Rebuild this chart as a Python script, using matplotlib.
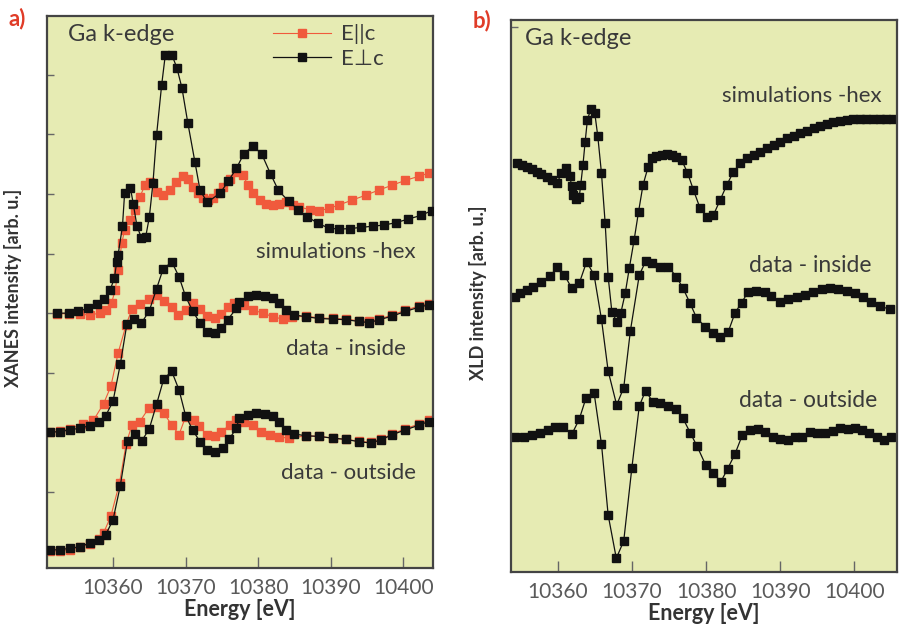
import matplotlib
matplotlib.use("Agg")
import matplotlib.pyplot as plt
from matplotlib.lines import Line2D

plt.rcParams['font.family'] = ['Lato', 'DejaVu Sans']

# ---------------- panel a: XANES (arb. units, curves offset) ----------------
sim_perp_E = [10352.3, 10353.9, 10355.2, 10356.5, 10357.8, 10358.7, 10359.6, 10360.2, 10360.5,
              10360.7, 10361.3, 10361.6, 10362.4, 10362.8, 10363.3, 10363.9, 10364.5, 10365.0,
              10365.5, 10366.0, 10366.7, 10367.2, 10368.1, 10368.8, 10369.5, 10370.3, 10371.3,
              10372.0, 10373.0, 10374.8, 10375.9, 10377.0, 10378.0, 10379.3, 10380.5, 10381.7,
              10382.8, 10384.2, 10385.5, 10386.8, 10388.2, 10389.7, 10391.1, 10392.6, 10394.2,
              10395.8, 10397.4, 10399.0, 10400.7, 10402.4, 10403.9]
sim_perp_I = [4.00, 4.00, 4.03, 4.08, 4.15, 4.23, 4.39, 4.59, 4.86,
              4.98, 5.46, 6.02, 6.10, 5.83, 5.46, 5.27, 5.28, 5.61,
              6.18, 6.99, 7.83, 8.33, 8.34, 8.12, 7.78, 7.20, 6.53,
              6.06, 5.86, 6.02, 6.22, 6.43, 6.67, 6.81, 6.67, 6.34,
              6.06, 5.88, 5.74, 5.62, 5.51, 5.43, 5.41, 5.42, 5.44,
              5.46, 5.48, 5.52, 5.58, 5.64, 5.72]

sim_par_E = [10352.3, 10353.9, 10355.4, 10356.8, 10358.2, 10359.1, 10359.8, 10360.3, 10360.7,
             10361.2, 10361.6, 10362.3, 10363.0, 10363.7, 10364.4, 10365.1, 10366.0, 10366.9,
             10367.8, 10368.7, 10369.7, 10370.3, 10371.0, 10371.7, 10372.4, 10373.1, 10373.8,
             10374.5, 10375.2, 10376.1, 10377.0, 10377.9, 10378.6, 10379.3, 10380.2, 10381.1,
             10382.0, 10382.9, 10383.9, 10384.8, 10385.7, 10387.1, 10388.4, 10389.8, 10391.2,
             10393.0, 10394.8, 10396.7, 10398.5, 10400.3, 10402.2, 10403.5]
sim_par_I = [3.99, 3.99, 3.98, 3.97, 4.00, 4.05, 4.17, 4.39, 4.72,
             5.17, 5.40, 5.56, 5.73, 5.95, 6.15, 6.21, 6.04, 5.98,
             6.07, 6.21, 6.31, 6.26, 6.12, 6.01, 5.93, 5.90, 5.93,
             6.01, 6.12, 6.26, 6.37, 6.32, 6.15, 6.01, 5.90, 5.83,
             5.82, 5.84, 5.87, 5.82, 5.78, 5.74, 5.72, 5.76, 5.82,
             5.90, 5.98, 6.07, 6.15, 6.23, 6.30, 6.35]

in_perp_E = [10351.3, 10352.7, 10354.1, 10355.5, 10356.8, 10358.0, 10359.0, 10360.0, 10361.0,
             10361.9, 10362.9, 10363.9, 10365.0, 10366.0, 10366.9, 10368.1, 10369.1, 10370.0,
             10371.0, 10372.0, 10372.9, 10374.0, 10374.9, 10375.8, 10377.0, 10377.4, 10378.6,
             10379.7, 10380.9, 10382.0, 10382.9, 10383.9, 10385.0, 10386.6, 10388.4, 10390.3,
             10392.1, 10393.9, 10395.3, 10396.7, 10398.5, 10400.3, 10402.2, 10403.5]
in_perp_I = [2.00, 2.01, 2.04, 2.07, 2.11, 2.18, 2.28, 2.52, 3.14,
             3.81, 3.90, 3.83, 4.04, 4.41, 4.74, 4.86, 4.61, 4.28,
             4.03, 3.83, 3.69, 3.66, 3.75, 3.89, 4.08, 4.19, 4.28,
             4.31, 4.29, 4.25, 4.17, 4.05, 3.97, 3.94, 3.91, 3.90,
             3.89, 3.86, 3.84, 3.89, 3.95, 4.03, 4.10, 4.14]

in_par_E = [10351.3, 10352.7, 10354.1, 10355.9, 10357.3, 10358.7, 10359.7, 10360.7, 10361.8,
            10362.6, 10363.7, 10364.9, 10366.0, 10367.0, 10368.1, 10369.0, 10370.0, 10371.0,
            10372.0, 10373.0, 10374.0, 10374.9, 10375.8, 10376.7, 10378.1, 10379.3, 10380.7,
            10382.0, 10383.4, 10384.6, 10386.6, 10388.4, 10390.3, 10392.1, 10393.9, 10395.3,
            10396.7, 10398.5, 10400.3, 10402.2, 10403.5]
in_par_I = [2.00, 2.02, 2.06, 2.14, 2.20, 2.48, 2.77, 3.33, 3.80,
            4.07, 4.15, 4.23, 4.31, 4.21, 4.10, 3.97, 4.05, 4.17,
            4.07, 3.95, 3.91, 3.99, 4.10, 4.17, 4.13, 4.05, 4.00,
            3.94, 3.90, 3.93, 3.95, 3.92, 3.91, 3.90, 3.87, 3.86,
            3.90, 3.97, 4.05, 4.12, 4.16]

out_perp_E = [10351.3, 10352.7, 10354.1, 10355.5, 10356.8, 10358.0, 10359.0, 10360.0, 10361.0,
              10362.0, 10363.0, 10364.0, 10365.0, 10366.0, 10367.0, 10368.1, 10369.1, 10370.0,
              10371.0, 10372.0, 10372.9, 10374.0, 10375.1, 10376.0, 10377.0, 10377.4, 10378.6,
              10379.7, 10380.9, 10382.0, 10382.9, 10383.9, 10385.0, 10386.6, 10388.4, 10390.3,
              10392.1, 10393.9, 10395.5, 10396.9, 10398.5, 10400.3, 10402.2, 10403.5]
out_perp_I = [0.02, 0.03, 0.05, 0.08, 0.14, 0.19, 0.28, 0.53, 1.10,
              1.86, 1.97, 1.86, 2.06, 2.47, 2.90, 3.02, 2.71, 2.28,
              2.03, 1.84, 1.70, 1.66, 1.73, 1.88, 2.07, 2.24, 2.29,
              2.32, 2.31, 2.28, 2.18, 2.04, 1.97, 1.94, 1.93, 1.90,
              1.88, 1.84, 1.82, 1.87, 1.96, 2.04, 2.12, 2.18]

out_par_E = [10351.3, 10352.7, 10354.1, 10355.5, 10356.8, 10358.0, 10358.7, 10359.7, 10360.9,
             10361.8, 10362.6, 10363.7, 10364.9, 10366.0, 10367.0, 10368.1, 10369.1, 10370.0,
             10371.2, 10371.9, 10372.9, 10374.0, 10374.9, 10376.1, 10377.0, 10378.1, 10379.3,
             10380.4, 10381.6, 10382.9, 10384.3, 10386.6, 10388.4, 10390.3, 10392.1, 10393.9,
             10395.5, 10396.9, 10398.5, 10400.3, 10402.2, 10403.5]
out_par_I = [0.00, 0.01, 0.03, 0.07, 0.13, 0.20, 0.31, 0.59, 1.15,
             1.80, 2.12, 2.18, 2.40, 2.43, 2.32, 2.12, 1.96, 2.26,
             2.21, 2.10, 1.96, 1.93, 2.01, 2.12, 2.21, 2.18, 2.12,
             2.01, 1.96, 1.92, 1.90, 1.94, 1.93, 1.90, 1.88, 1.85,
             1.83, 1.88, 1.97, 2.06, 2.14, 2.20]

# ---------------- panel b: XLD (arb. units, curves offset) ----------------
xld_sim_E = [10354.5, 10355.2, 10355.8, 10356.5, 10357.2, 10357.8, 10358.5, 10359.2, 10359.9,
             10360.5, 10361.1, 10361.6, 10361.9, 10362.1, 10362.5, 10362.9, 10363.1, 10363.4,
             10363.7, 10364.0, 10364.45, 10365.0, 10365.4, 10365.9, 10366.4, 10366.8, 10367.3,
             10367.95, 10368.5, 10369.1, 10369.65, 10370.3, 10370.9, 10371.5, 10372.2, 10372.7,
             10373.3, 10374.0, 10374.7, 10375.4, 10376.0, 10376.7, 10377.5, 10378.3, 10379.2,
             10380.1, 10381.0, 10381.9, 10382.8, 10383.7, 10384.6, 10385.5, 10386.4, 10387.3,
             10388.2, 10389.1, 10390.0, 10390.9, 10391.8, 10392.7, 10393.6, 10394.5, 10395.4,
             10396.3, 10397.1, 10398.0, 10399.0, 10399.8, 10400.7, 10401.6, 10402.5, 10403.4,
             10404.3, 10405.2]
xld_sim_I = [40.87, 40.70, 40.53, 40.27, 40.03, 39.77, 39.53, 39.20, 38.87,
             39.87, 40.40, 39.60, 38.60, 37.70, 37.30, 37.50, 38.70, 40.70,
             43.03, 45.20, 46.27, 45.87, 43.60, 39.87, 34.87, 29.53, 26.03,
             25.03, 25.87, 27.87, 30.37, 33.20, 36.03, 38.70, 40.53, 41.37,
             41.60, 41.70, 41.77, 41.70, 41.53, 41.20, 39.93, 38.20, 36.37,
             35.53, 35.70, 37.20, 38.70, 40.03, 40.87, 41.37, 41.70, 42.03,
             42.37, 42.70, 43.03, 43.37, 43.60, 43.87, 44.13, 44.37, 44.60,
             44.80, 44.97, 45.10, 45.20, 45.27, 45.27, 45.30, 45.30, 45.30,
             45.30, 45.30]

xld_in_E = [10354.25, 10354.9, 10355.8, 10356.7, 10357.8, 10359.0, 10359.95, 10360.9, 10361.9,
            10362.9, 10363.9, 10364.9, 10365.9, 10366.8, 10367.95, 10368.9, 10369.8, 10371.0,
            10371.9, 10372.7, 10373.8, 10374.9, 10376.0, 10376.9, 10377.8, 10378.7, 10379.85,
            10381.0, 10381.9, 10383.0, 10383.9, 10384.8, 10385.7, 10386.8, 10387.9, 10388.8,
            10390.0, 10391.1, 10392.2, 10393.3, 10394.45, 10395.6, 10396.7, 10397.8, 10398.95,
            10400.1, 10401.2, 10402.3, 10403.4, 10404.8]
xld_in_I = [27.53, 27.87, 28.20, 28.53, 29.03, 29.60, 30.53, 29.70, 28.37,
            28.87, 31.03, 29.70, 25.27, 20.10, 16.70, 18.43, 24.13, 29.70,
            31.13, 30.87, 30.53, 30.53, 29.53, 28.37, 26.95, 25.45, 24.53,
            23.87, 23.53, 24.03, 25.90, 26.95, 28.03, 28.13, 28.03, 27.60,
            27.03, 27.30, 27.53, 27.70, 28.03, 28.27, 28.37, 28.30, 28.13,
            27.93, 27.53, 27.03, 26.60, 26.27]

xld_out_E = [10354.25, 10355.4, 10356.5, 10357.6, 10358.7, 10359.6, 10360.75, 10361.9, 10362.9,
             10363.8, 10364.9, 10365.9, 10366.8, 10367.9, 10368.9, 10370.0, 10371.0, 10371.85,
             10372.8, 10373.8, 10374.9, 10375.9, 10376.85, 10377.9, 10378.8, 10379.95, 10381.0,
             10382.0, 10382.9, 10383.9, 10384.9, 10385.9, 10387.0, 10387.9, 10389.0, 10390.0,
             10391.1, 10392.0, 10392.9, 10394.0, 10394.9, 10396.0, 10397.1, 10398.1, 10399.2,
             10400.1, 10401.0, 10402.0, 10403.0, 10404.0, 10405.0]
xld_out_I = [13.53, 13.53, 13.70, 13.87, 14.20, 14.53, 14.53, 13.77, 15.27,
             17.37, 17.93, 12.80, 5.70, 1.37, 3.10, 10.43, 16.60, 18.13,
             17.03, 16.87, 16.60, 16.27, 15.43, 13.87, 12.57, 10.70, 9.87,
             9.03, 10.30, 11.80, 13.70, 14.20, 14.27, 14.03, 13.47, 13.27,
             13.20, 13.47, 13.47, 14.03, 13.87, 13.93, 14.13, 14.37, 14.27,
             14.37, 14.20, 13.87, 13.53, 13.20, 13.53]

energy_ticks = [10360, 10370, 10380, 10390, 10400]

BG = '#e6ebb3'
RED = '#f05a3c'
BLK = '#111111'
TXT = '#3a3a3a'
TICKLBL = '#5a5a5a'

fig = plt.figure(figsize=(9.05, 6.26), dpi=100)
axa = fig.add_axes([47 / 905, 1 - 568 / 626, 386 / 905, 552 / 626])
axb = fig.add_axes([511 / 905, 1 - 572 / 626, 386 / 905, 552 / 626])

for ax in (axa, axb):
    ax.set_facecolor(BG)
    for s in ax.spines.values():
        s.set_color('#444444')
        s.set_linewidth(1.6)
    ax.set_xticks(energy_ticks)
    ax.tick_params(axis='x', direction='in', length=8, width=1.0, color='#666666',
                   labelcolor=TICKLBL, labelsize=15, pad=7)
    ax.tick_params(axis='y', direction='in', length=5, width=1.0, color='#666666',
                   labelleft=False)
    ax.set_xlabel('Energy [eV]', fontsize=15.5, fontweight='bold', color='#333333', labelpad=1)

red_kw = dict(color=RED, lw=0.8, marker='s', ms=6.3, mec=RED, mfc=RED)
blk_kw = dict(color=BLK, lw=0.9, marker='s', ms=6.3, mec=BLK, mfc=BLK)

# panel a
axa.plot(sim_par_E, sim_par_I, **red_kw, zorder=2)
axa.plot(in_par_E, in_par_I, **red_kw, zorder=2)
axa.plot(out_par_E, out_par_I, **red_kw, zorder=2)
axa.plot(sim_perp_E, sim_perp_I, **blk_kw, zorder=3)
axa.plot(in_perp_E, in_perp_I, **blk_kw, zorder=3)
axa.plot(out_perp_E, out_perp_I, **blk_kw, zorder=3)
axa.set_xlim(10350.9, 10404.1)
axa.set_ylim(-0.28, 8.99)
axa.set_yticks(range(0, 9))
axa.set_ylabel('XANES intensity [arb. u.]', fontsize=13, fontweight='bold', color='#333333')
axa.yaxis.set_label_coords(-0.065, 0.507)

axa.text(0.055, 0.985, 'Ga k-edge', transform=axa.transAxes, fontsize=17, color=TXT,
         va='top', ha='left')
axa.text(0.955, 0.572, 'simulations -hex', transform=axa.transAxes, fontsize=16, color=TXT,
         ha='right', va='center')
axa.text(0.93, 0.397, 'data - inside', transform=axa.transAxes, fontsize=16, color=TXT,
         ha='right', va='center')
axa.text(0.955, 0.172, 'data - outside', transform=axa.transAxes, fontsize=16, color=TXT,
         ha='right', va='center')

handles = [Line2D([], [], **red_kw), Line2D([], [], **blk_kw)]
leg = axa.legend(handles, ['E||c', 'E\u22a5c'], loc='upper left', bbox_to_anchor=(0.585, 0.985),
                 frameon=False, fontsize=16, handlelength=2.6, handletextpad=0.45,
                 labelspacing=0.2, borderaxespad=0.0, borderpad=0.0)
for t in leg.get_texts():
    t.set_color(TXT)

# panel b
axb.plot(xld_sim_E, xld_sim_I, **blk_kw)
axb.plot(xld_in_E, xld_in_I, **blk_kw)
axb.plot(xld_out_E, xld_out_I, **blk_kw)
axb.set_xlim(10353.7, 10405.75)
axb.set_ylim(0, 55.2)
axb.set_yticks([54.5])
axb.set_ylabel('XLD intensity [arb. u.]', fontsize=13, fontweight='bold', color='#333333')
axb.yaxis.set_label_coords(-0.062, 0.505)

axb.text(0.035, 0.985, 'Ga k-edge', transform=axb.transAxes, fontsize=17, color=TXT,
         va='top', ha='left')
axb.text(0.96, 0.863, 'simulations -hex', transform=axb.transAxes, fontsize=16, color=TXT,
         ha='right', va='center')
axb.text(0.935, 0.556, 'data - inside', transform=axb.transAxes, fontsize=16.5, color=TXT,
         ha='right', va='center')
axb.text(0.95, 0.31, 'data - outside', transform=axb.transAxes, fontsize=16.5, color=TXT,
         ha='right', va='center')

fig.text(8 / 905, 1 - 19 / 626, 'a)', color='#e03c28', fontsize=16, fontweight='bold',
         va='center', ha='left')
fig.text(473 / 905, 1 - 21 / 626, 'b)', color='#e03c28', fontsize=16, fontweight='bold',
         va='center', ha='left')

fig.savefig('out.png', dpi=100, facecolor='white')
